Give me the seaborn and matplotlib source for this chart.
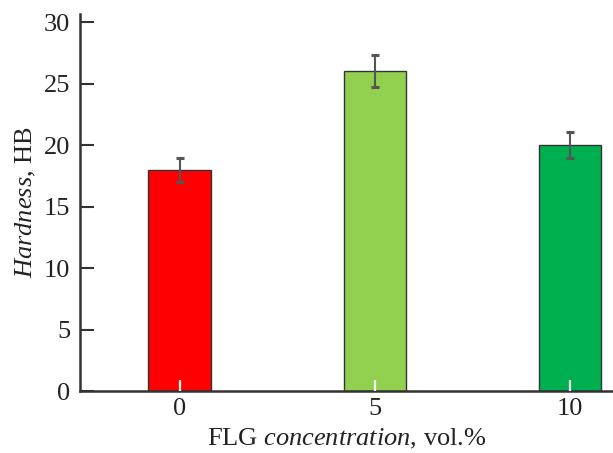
import matplotlib
matplotlib.use("Agg")
import matplotlib.pyplot as plt
import seaborn as sns
import pandas as pd

# FLG content of the samples, vol.%
concentrations = ["0", "5", "10"]
# Brinell hardness and its scatter
hardness = [18.0, 26.0, 20.0]
hardness_err = [0.95, 1.3, 1.05]
bar_colors = ["#FF0000", "#92D050", "#00B050"]
y_ticks = [0, 5, 10, 15, 20, 25, 30]

sns.set_theme(style="ticks")
plt.rcParams["font.family"] = ["Liberation Serif", "DejaVu Serif"]
plt.rcParams["mathtext.fontset"] = "custom"
plt.rcParams["mathtext.rm"] = "Liberation Serif"
plt.rcParams["mathtext.it"] = "Liberation Serif:italic"

FS = 19
df = pd.DataFrame({"conc": concentrations, "hb": hardness})

fig = plt.figure(figsize=(6.13, 4.53), dpi=100)
ax = fig.add_axes([0.1305, 0.136, 0.8695, 0.834])

sns.barplot(data=df, x="conc", y="hb", hue="conc", palette=bar_colors,
            order=concentrations, hue_order=concentrations, legend=False,
            width=0.32, edgecolor="#333333", linewidth=1.0, errorbar=None,
            saturation=1.0, ax=ax)

# error bars on top of each column
xpos = list(range(len(concentrations)))
eb = ax.errorbar(xpos, hardness, yerr=hardness_err, fmt="none",
                 ecolor="#555555", elinewidth=1.5, capsize=3, capthick=2.2,
                 zorder=5)
for cap in eb[1]:
    cap.set_color("#222222")

ax.set_axisbelow(False)
ax.set_ylim(0, 30.7)
ax.set_xlim(-0.51, 2.22)
ax.set_yticks(y_ticks)

sns.despine(ax=ax)
for side in ("left", "bottom"):
    ax.spines[side].set_linewidth(1.8)
    ax.spines[side].set_color("#333333")

ax.tick_params(axis="y", direction="in", length=10, width=1.5,
               color="#333333", labelsize=FS, labelcolor="#222222", pad=7)
ax.tick_params(axis="x", direction="in", length=8, width=1.6,
               color="#f4f4f4", labelsize=FS, labelcolor="#222222", pad=5)

ax.set_xlabel("FLG $\\it{concentration}$, vol.%", fontsize=FS,
              color="#222222", labelpad=5)
ax.set_ylabel("$\\it{Hardness}$, HB", fontsize=FS, color="#222222",
              labelpad=4)

fig.savefig("out.png", dpi=100)
